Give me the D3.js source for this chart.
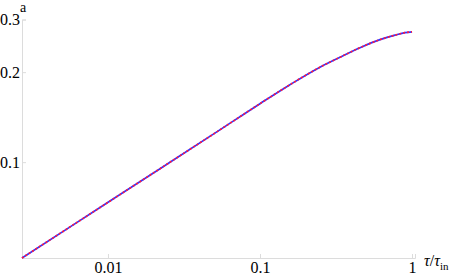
<!DOCTYPE html>
<html>
<head>
<meta charset="utf-8">
<script src="https://cdn.jsdelivr.net/npm/d3@7"></script>
<style>
  body { margin: 0; background: #fff; }
</style>
</head>
<body>
<div id="chart"></div>
<script>
let w = 455;
let h = 277;
let serif = "'Liberation Serif', 'Times New Roman', 'DejaVu Serif', serif";

// data (tau / tau_in , a)
let tau   = [0.00272, 0.00886, 0.0220, 0.0529, 0.100, 0.1575, 0.248, 0.336, 0.455, 0.616, 0.773, 0.899, 1.0];
let aBlue = [0.0478, 0.0705, 0.0951, 0.127, 0.1569, 0.1816, 0.2078, 0.2244, 0.2415, 0.2569, 0.2659, 0.2711, 0.2728];
let aRed  = [0.0478, 0.0705, 0.0951, 0.127, 0.1569, 0.1816, 0.2078, 0.2244, 0.2415, 0.2569, 0.2659, 0.2711, 0.2728];

let xTicks = [0.01, 0.1, 1];
let xTickLabels = ["0.01", "0.1", "1"];
let yTicks = [0.1, 0.2, 0.3];
let yTickLabels = ["0.1", "0.2", "0.3"];

let svg = d3.select("#chart")
    .append("svg")
    .attr("width", w)
    .attr("height", h)
    .style("font-family", serif);

let xScale = d3.scaleLog()
    .domain([0.00272, 1.046])
    .range([22, 415]);

let yScale = d3.scaleLog()
    .domain([0.0478, 0.3])
    .range([258, 19.5]);

let axisColor = "#dcdcdc";

// axes
let xAxis = d3.axisBottom(xScale)
    .tickValues(xTicks)
    .tickSize(-4)
    .tickFormat((d, i) => xTickLabels[i]);

let yAxis = d3.axisLeft(yScale)
    .tickValues(yTicks)
    .tickSize(-4)
    .tickFormat((d, i) => yTickLabels[i]);

let gx = svg.append("g")
    .attr("transform", "translate(0," + yScale.range()[0] + ")")
    .call(xAxis);

let gy = svg.append("g")
    .attr("transform", "translate(" + xScale.range()[0] + ",0)")
    .call(yAxis);

[gx, gy].forEach(g => {
    g.attr("font-family", null);
    g.select(".domain").attr("stroke", axisColor).attr("stroke-width", 1);
    g.selectAll(".tick line").attr("stroke", axisColor);
    g.selectAll(".tick text")
        .style("font-family", serif)
        .style("font-size", "16px")
        .attr("fill", "#000");
});
gx.selectAll(".tick text").attr("y", 4);
gy.selectAll(".tick text").attr("x", -2);

// axis labels
svg.append("text")
    .attr("x", 20)
    .attr("y", 12)
    .style("font-size", "14px")
    .attr("fill", "#000")
    .text("a");

let xl = svg.append("text")
    .attr("x", 424)
    .attr("y", 266)
    .style("font-size", "16px")
    .attr("fill", "#000");
xl.append("tspan").style("font-style", "italic").text("τ");
xl.append("tspan").text("/");
xl.append("tspan").style("font-style", "italic").text("τ");
xl.append("tspan").attr("dy", 4).style("font-size", "11px").text("in");

// lines
let line = d3.line()
    .x(d => xScale(d[0]))
    .y(d => yScale(d[1]))
    .curve(d3.curveMonotoneX);

svg.append("path")
    .datum(d3.zip(tau, aBlue))
    .attr("d", line)
    .attr("fill", "none")
    .attr("stroke", "#3333ff")
    .attr("stroke-width", 1.7);

svg.append("path")
    .datum(d3.zip(tau, aRed))
    .attr("d", line)
    .attr("fill", "none")
    .attr("stroke", "#ff1a3c")
    .attr("stroke-width", 1.7)
    .attr("stroke-dasharray", "2,2");
</script>
</body>
</html>
